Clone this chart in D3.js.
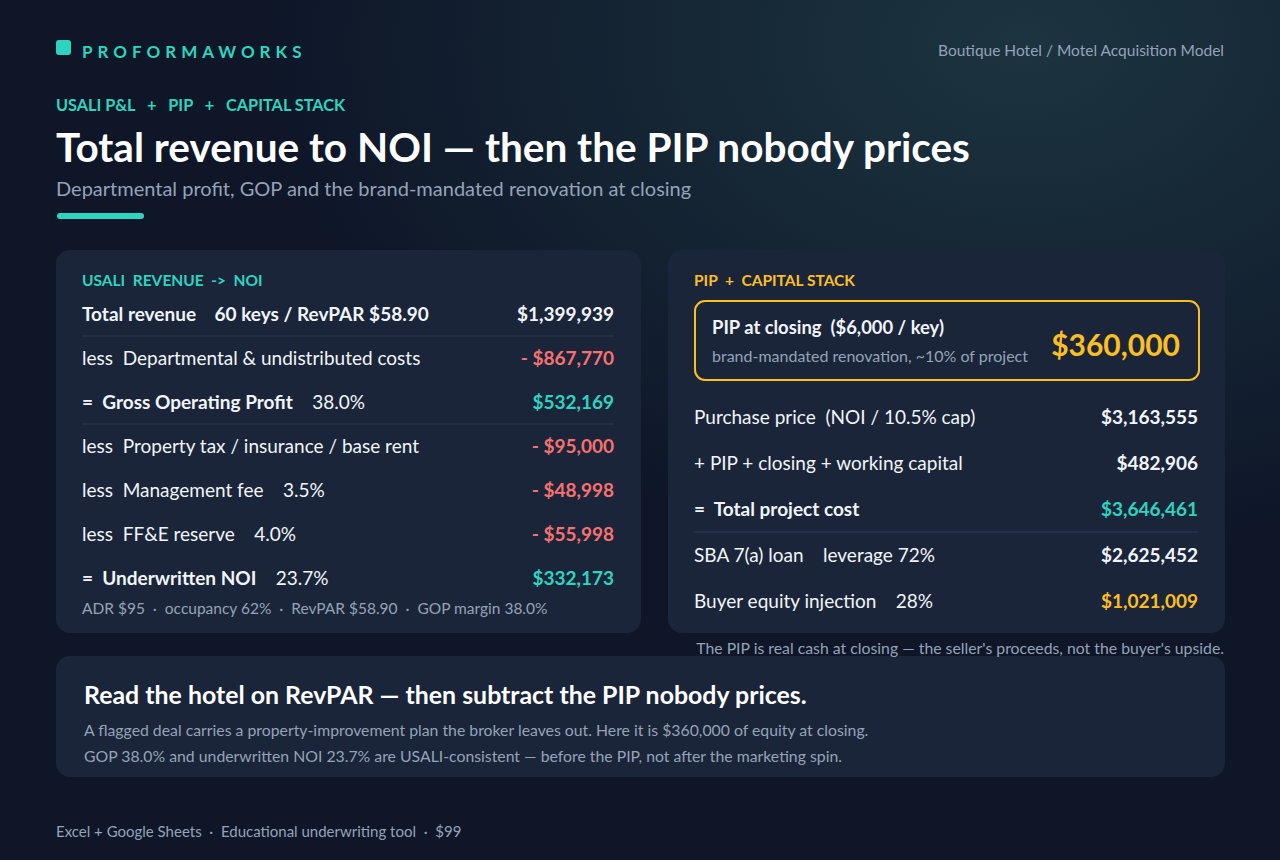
<!DOCTYPE html>
<html>
<head>
<meta charset="utf-8">
<script src="https://cdn.jsdelivr.net/npm/d3@7"></script>
<style>
  body { margin: 0; background: #0e1628; }
  svg { display: block; font-family: "Lato", "Noto Sans", sans-serif; }
</style>
</head>
<body>
<script>
// left card: USALI P&L
var plLabels = ["Total revenue", "less  Departmental & undistributed costs", "=  Gross Operating Profit",
  "less  Property tax / insurance / base rent", "less  Management fee", "less  FF&E reserve", "=  Underwritten NOI"];
var plNotes = ["60 keys / RevPAR $58.90", "", "38.0%", "", "3.5%", "4.0%", "23.7%"];
var plValues = ["$1,399,939", "- $867,770", "$532,169", "- $95,000", "- $48,998", "- $55,998", "$332,173"];
var plKinds = ["head", "neg", "sub", "neg", "neg", "neg", "sub"];

// right card: capital stack
var capLabels = ["Purchase price  (NOI / 10.5% cap)", "+ PIP + closing + working capital", "=  Total project cost",
  "SBA 7(a) loan    leverage 72%", "Buyer equity injection    28%"];
var capValues = ["$3,163,555", "$482,906", "$3,646,461", "$2,625,452", "$1,021,009"];
var capKinds = ["plain", "plain", "sub", "plain", "eq"];

var W = 1280, H = 860;
var teal = "#2dd4bf", red = "#f87171", gold = "#fbbf24", white = "#f1f5f9", grey = "#94a3b8", card = "#1b2539";

var svg = d3.select("body").append("svg").attr("width", W).attr("height", H);
var defs = svg.append("defs");
var g = defs.append("radialGradient").attr("id", "glow").attr("cx", "80%").attr("cy", "5%").attr("r", "60%");
g.append("stop").attr("offset", "0%").attr("stop-color", "#1c3440");
g.append("stop").attr("offset", "100%").attr("stop-color", "#0e1628");
svg.append("rect").attr("width", W).attr("height", H).attr("fill", "url(#glow)");

function text(x, y, s, size, fill, weight, anchor) {
  return svg.append("text").attr("x", x).attr("y", y).text(s)
    .attr("font-size", size).attr("fill", fill).attr("font-weight", weight || 400)
    .attr("text-anchor", anchor || "start");
}

// header
svg.append("rect").attr("x", 56).attr("y", 40).attr("width", 15).attr("height", 15).attr("rx", 3).attr("fill", teal);
text(82, 58, "PROFORMAWORKS", 17, teal, 700).attr("letter-spacing", 5);
text(1224, 56, "Boutique Hotel / Motel Acquisition Model", 15.5, grey, 400, "end");
text(56, 111, "USALI P&L   +   PIP   +   CAPITAL STACK", 16.3, teal, 700).attr("xml:space", "preserve");
text(56, 162, "Total revenue to NOI \u2014 then the PIP nobody prices", 40.5, "#ffffff", 700);
text(56, 196, "Departmental profit, GOP and the brand-mandated renovation at closing", 20, grey, 400);
svg.append("rect").attr("x", 57).attr("y", 213).attr("width", 87).attr("height", 6).attr("rx", 3).attr("fill", teal);

// cards
[[56, 250, 585, 383], [668, 250, 557, 383], [56, 656, 1169, 121]].forEach(function (c) {
  svg.append("rect").attr("x", c[0]).attr("y", c[1]).attr("width", c[2]).attr("height", c[3]).attr("rx", 14).attr("fill", card);
});

// left card rows
text(82, 286, "USALI  REVENUE  ->  NOI", 15.5, teal, 700).attr("xml:space", "preserve");
var yL = d3.scalePoint().domain(d3.range(plLabels.length)).range([314, 578]);
var colour = { head: white, neg: red, sub: teal, plain: white, eq: gold };
plLabels.forEach(function (l, i) {
  var bold = plKinds[i] !== "neg";
  var lab = text(82, yL(i) + 7, null, 19, white, bold ? 700 : 400).attr("xml:space", "preserve");
  lab.append("tspan").text(l);
  if (plNotes[i]) lab.append("tspan").attr("font-weight", plKinds[i] === "head" ? 700 : 400).text("    " + plNotes[i]);
  text(614, yL(i) + 7, plValues[i], 19, colour[plKinds[i]], 700, "end");
});
[0, 2].forEach(function (i) {
  svg.append("line").attr("x1", 82).attr("x2", 614).attr("y1", (yL(i) + yL(i + 1)) / 2).attr("y2", (yL(i) + yL(i + 1)) / 2)
    .attr("stroke", "#2d3a50").attr("stroke-width", 1);
});
text(82, 614, "ADR $95  \u00b7  occupancy 62%  \u00b7  RevPAR $58.90  \u00b7  GOP margin 38.0%", 15.5, grey, 400).attr("xml:space", "preserve");

// right card
text(694, 286, "PIP  +  CAPITAL STACK", 15.5, gold, 700).attr("xml:space", "preserve");
svg.append("rect").attr("x", 695).attr("y", 301).attr("width", 504).attr("height", 79).attr("rx", 10)
  .attr("fill", "none").attr("stroke", gold).attr("stroke-width", 2);
text(712, 334, "PIP at closing  ($6,000 / key)", 18.4, white, 700).attr("xml:space", "preserve");
text(712, 362, "brand-mandated renovation, ~10% of project", 16, grey, 400);
text(1180, 356, "$360,000", 30, gold, 700, "end");
var yR = d3.scalePoint().domain(d3.range(capLabels.length)).range([417, 601]);
capLabels.forEach(function (l, i) {
  text(694, yR(i) + 7, l, 19, white, capKinds[i] === "sub" ? 700 : 400).attr("xml:space", "preserve");
  text(1198, yR(i) + 7, capValues[i], 19, capKinds[i] === "plain" ? white : colour[capKinds[i]], 700, "end");
});
svg.append("line").attr("x1", 694).attr("x2", 1198).attr("y1", (yR(2) + yR(3)) / 2).attr("y2", (yR(2) + yR(3)) / 2)
  .attr("stroke", "#2d3a50");
text(1224, 654, "The PIP is real cash at closing \u2014 the seller's proceeds, not the buyer's upside.", 15.8, grey, 400, "end");

// bottom takeaway
text(84, 704, "Read the hotel on RevPAR \u2014 then subtract the PIP nobody prices.", 24.9, "#ffffff", 700);
text(84, 736, "A flagged deal carries a property-improvement plan the broker leaves out. Here it is $360,000 of equity at closing.", 15.8, grey, 400);
text(84, 762, "GOP 38.0% and underwritten NOI 23.7% are USALI-consistent \u2014 before the PIP, not after the marketing spin.", 15.8, grey, 400);

// footer
text(56, 837, "Excel + Google Sheets  \u00b7  Educational underwriting tool  \u00b7  $99", 15, grey, 400).attr("xml:space", "preserve");
</script>
</body>
</html>
